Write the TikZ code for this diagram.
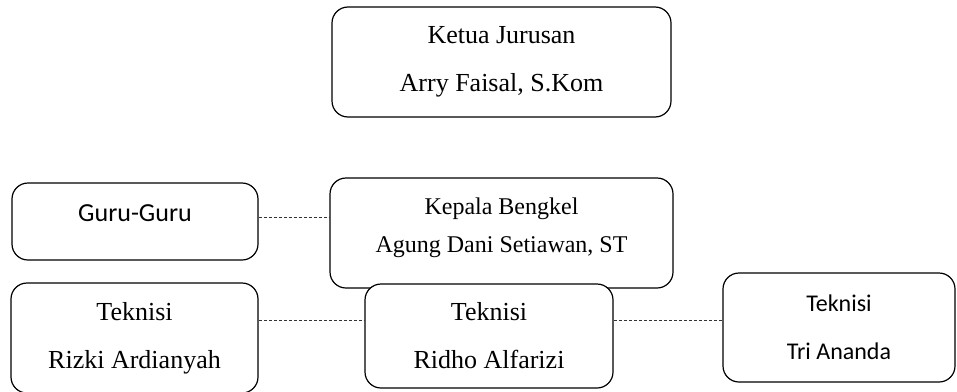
\documentclass[tikz,border=0pt]{standalone}
\usepackage{fontspec}
\setmainfont{Liberation Serif}
\newfontfamily\calibrifont{Carlito}

\begin{document}
\begin{tikzpicture}[x=1pt,y=-1pt]
		\tikzstyle{box}=[draw,rounded corners=16pt,fill=white,line width=1.2pt,align=center,inner sep=0pt,minimum height=110pt,font=\fontsize{26}{48}\selectfont]
		\tikzstyle{sansbox}=[box,font=\calibrifont\fontsize{26}{48}\selectfont]
		\tikzstyle{link}=[densely dashed,line width=0.6pt,draw=black!80]
		
		\useasboundingbox (0,0) rectangle (957,391);
		
		\node[box,minimum width=339pt] (ketua) at (501.5,62) {Ketua Jurusan\\Arry Faisal, S.Kom};
		\node[sansbox,minimum width=246pt,minimum height=77pt,text depth=16pt] (guru) at (135,221.5) {Guru-Guru};
		\node[box,minimum width=343pt,text depth=16pt,font=\fontsize{24}{38}\selectfont] (kepala) at (501.5,233) {Kepala Bengkel\\Agung Dani Setiawan, ST};
		\node[box,minimum width=247pt] (rizki) at (134.5,338) {Teknisi\\Rizki Ardianyah};
		\node[box,minimum width=248pt,minimum height=104pt] (ridho) at (489,336) {Teknisi\\Ridho Alfarizi};
		\node[sansbox,minimum width=232pt,minimum height=109pt,font=\calibrifont\fontsize{24}{48}\selectfont] (tri) at (839,327.5) {Teknisi\\Tri Ananda};
		
		\foreach \i/\j/\s in {guru/kepala/4.5,rizki/ridho/18,ridho/tri/16}
		\draw[link] ([yshift=\s pt]\i.east) -- ([yshift=\s pt]\i.east -| \j.west);
		
	\end{tikzpicture}
\end{document}
